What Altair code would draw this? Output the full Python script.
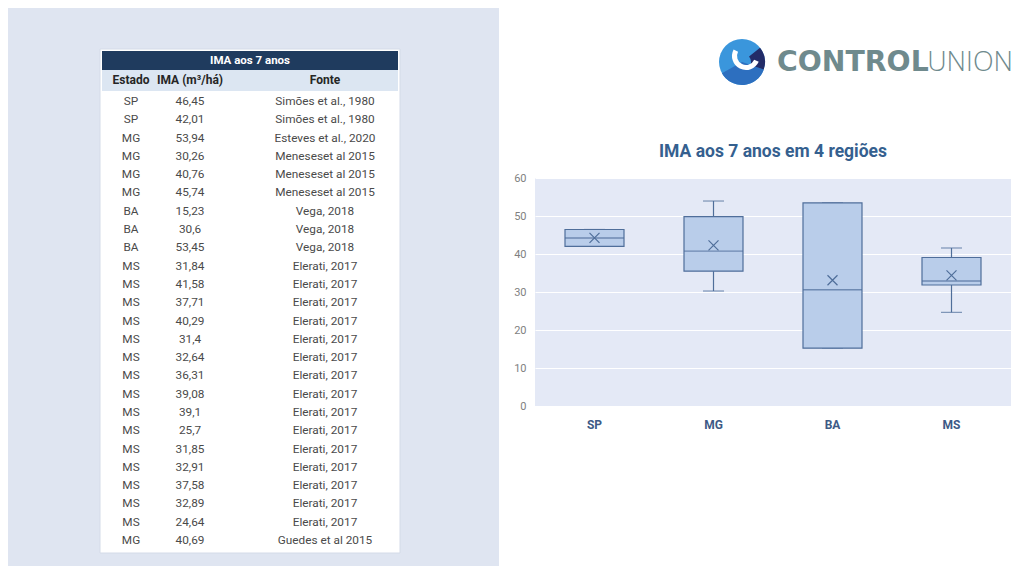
import altair as alt
import pandas as pd
import numpy as np

# ---------------- data ----------------
estados = ["SP", "SP", "MG", "MG", "MG", "MG", "BA", "BA", "BA",
           "MS", "MS", "MS", "MS", "MS", "MS", "MS", "MS", "MS", "MS",
           "MS", "MS", "MS", "MS", "MS", "MG"]
ima = [46.45, 42.01, 53.94, 30.26, 40.76, 45.74, 15.23, 30.6, 53.45,
       31.84, 41.58, 37.71, 40.29, 31.4, 32.64, 36.31, 39.08, 39.1, 25.7,
       31.85, 32.91, 37.58, 32.89, 24.64, 40.69]
fontes = ["Simões et al., 1980", "Simões et al., 1980", "Esteves et al., 2020",
          "Meneseset al 2015", "Meneseset al 2015", "Meneseset al 2015",
          "Vega, 2018", "Vega, 2018", "Vega, 2018"] + ["Elerati, 2017"] * 15 + ["Guedes et al 2015"]
ima_labels = ["46,45", "42,01", "53,94", "30,26", "40,76", "45,74", "15,23", "30,6", "53,45",
              "31,84", "41,58", "37,71", "40,29", "31,4", "32,64", "36,31", "39,08", "39,1",
              "25,7", "31,85", "32,91", "37,58", "32,89", "24,64", "40,69"]
regioes = ["SP", "MG", "BA", "MS"]
y_ticks = [0, 10, 20, 30, 40, 50, 60]

FONT = "Roboto"

# ---------------- table panel ----------------
tab = pd.DataFrame({"row": list(range(len(estados))), "estado": estados,
                    "ima": ima_labels, "fonte": fontes})

W_L, H = 491, 558
row_scale = alt.Scale(domain=[0, len(estados) - 1], range=[93, 532])

box_white = alt.Chart().mark_rect(color="white", stroke="#d4dbe8", strokeWidth=1).encode(
    x=alt.value(92), x2=alt.value(392), y=alt.value(41), y2=alt.value(545))
hdr = alt.Chart().mark_rect(color="#1f3b5e").encode(
    x=alt.value(94), x2=alt.value(390), y=alt.value(43), y2=alt.value(62))
sub = alt.Chart().mark_rect(color="#dce6f2").encode(
    x=alt.value(94), x2=alt.value(390), y=alt.value(62), y2=alt.value(83))
hdr_txt = alt.Chart().mark_text(text="IMA aos 7 anos", color="white", fontWeight="bold",
                                font=FONT, fontSize=11.5).encode(x=alt.value(242), y=alt.value(53))
col_hdr = []
for txt, xx in [("Estado", 123), ("IMA (m³/há)", 182), ("Fonte", 317)]:
    col_hdr.append(alt.Chart().mark_text(text=txt, color="#262626", fontWeight="bold",
                                         font=FONT, fontSize=12).encode(x=alt.value(xx), y=alt.value(72)))

base_t = alt.Chart(tab)
TXT = dict(font=FONT, fontSize=11.8, color="#4a4a4a")
t1 = base_t.mark_text(**TXT).encode(
    x=alt.value(123), y=alt.Y("row:Q", scale=row_scale, axis=None), text="estado:N")
t2 = base_t.mark_text(**TXT).encode(
    x=alt.value(182), y=alt.Y("row:Q", scale=row_scale, axis=None), text="ima:N")
t3 = base_t.mark_text(**TXT).encode(
    x=alt.value(317), y=alt.Y("row:Q", scale=row_scale, axis=None), text="fonte:N")

left = alt.layer(box_white, hdr, sub, hdr_txt, *col_hdr, t1, t2, t3).properties(
    width=W_L, height=H, view=alt.ViewConfig(fill="#dfe5f1", stroke=None))

# ---------------- box plot stats (Excel exclusive quartiles) ----------------
def q_exc(s, p):
    n = len(s)
    pos = (n + 1) * p
    pos = min(max(pos, 1), n)
    lo = int(np.floor(pos))
    frac = pos - lo
    if lo >= n:
        return s[-1]
    return s[lo - 1] + frac * (s[lo] - s[lo - 1])

rows = []
for r in regioes:
    s = sorted(v for e, v in zip(estados, ima) if e == r)
    q1, q3 = q_exc(s, 0.25), q_exc(s, 0.75)
    med = float(np.median(s))
    iqr = q3 - q1
    lo = min(v for v in s if v >= q1 - 1.5 * iqr)
    hi = max(v for v in s if v <= q3 + 1.5 * iqr)
    rows.append({"reg": r, "q1": q1, "q3": q3, "med": med, "mean": float(np.mean(s)),
                 "lo": lo, "hi": hi})
st = pd.DataFrame(rows)

PW, PH = 476, 228
STROKE = "#4f6e9a"
xenc = alt.X("reg:N", sort=regioes, title=None,
             scale=alt.Scale(paddingInner=0, paddingOuter=0),
             axis=alt.Axis(labelAngle=0, labelFont=FONT, labelFontSize=12, labelFontWeight="bold",
                           labelColor="#3d5a86", ticks=False, domain=False, labelPadding=13, grid=False))
yscale = alt.Scale(domain=[0, 60], nice=False)
yax = alt.Axis(values=y_ticks, labelFont=FONT, labelFontSize=11, labelColor="#7f7f7f",
               ticks=False, domain=False, labelPadding=9, grid=True, gridColor="white",
               gridWidth=1.2, labelOverlap=False)

def Y(f):
    return alt.Y(f, scale=yscale, axis=yax, title=None)

b = alt.Chart(st)
whisk = b.mark_rule(color=STROKE, strokeWidth=1.2).encode(x=xenc, y=Y("lo:Q"), y2="hi:Q")
caps_lo = b.mark_tick(color=STROKE, size=21, thickness=1.2, orient="horizontal").encode(
    x=xenc, y=Y("lo:Q"))
caps_hi = b.mark_tick(color=STROKE, size=21, thickness=1.2, orient="horizontal").encode(
    x=xenc, y=Y("hi:Q"))
boxes = b.mark_bar(size=59, color="#b9cdea", stroke=STROKE, strokeWidth=1.2).encode(
    x=xenc, y=Y("q1:Q"), y2="q3:Q")
meds = b.mark_tick(color=STROKE, size=59, thickness=1.4, orient="horizontal").encode(
    x=xenc, y=Y("med:Q"))
means = b.mark_point(shape="M-1,-1L1,1M-1,1L1,-1", filled=False, size=100, color=STROKE,
                     strokeWidth=1.2, opacity=1).encode(x=xenc, y=Y("mean:Q"))

box_chart = alt.layer(whisk, caps_lo, caps_hi, boxes, meds, means).properties(
    width=PW, height=PH,
    title=alt.TitleParams("IMA aos 7 anos em 4 regiões", font=FONT, fontSize=17.5, fontWeight="bold",
                          color="#35608f", anchor="middle", offset=12),
    view=alt.ViewConfig(fill="#e4e9f6", stroke=None))

# ---------------- logo ----------------
lx, ly = 207, 54
logo_parts = [
    alt.Chart().mark_arc(color="#3a96dc", radius=23, theta=0, theta2=6.2832).encode(
        x=alt.value(lx), y=alt.value(ly)),
    alt.Chart().mark_arc(color="#2d6fbf", radius=23, theta=1.9, theta2=4.2).encode(
        x=alt.value(lx), y=alt.value(ly)),
    alt.Chart().mark_arc(color="#232c68", radius=23, radius2=9, theta=0.9, theta2=1.9).encode(
        x=alt.value(lx), y=alt.value(ly)),
    alt.Chart().mark_arc(color="white", radius=14, radius2=9, theta=2.0, theta2=5.2).encode(
        x=alt.value(lx + 4), y=alt.value(ly - 6)),
    alt.Chart().mark_text(text="CONTROL", font="DejaVu Sans", fontWeight="bold", fontSize=28.3,
                          color="#6f8a8d", align="left", baseline="middle").encode(
        x=alt.value(242), y=alt.value(ly + 1)),
    alt.Chart().mark_text(text="UNION", font="Open Sans", fontWeight=300, fontSize=27,
                          color="#6f8a8d", align="right", baseline="middle").encode(
        x=alt.value(478), y=alt.value(ly + 1)),
]
logo = alt.layer(*logo_parts).properties(width=PW, height=114,
                                         view=alt.ViewConfig(fill=None, stroke=None))

right = alt.vconcat(logo, box_chart, spacing=20)

chart = alt.hconcat(left, right, spacing=14).properties(padding=0).configure_view(
    stroke=None).configure(background="white")

chart.save("out.html", embed_options={"renderer": "svg", "actions": False})
